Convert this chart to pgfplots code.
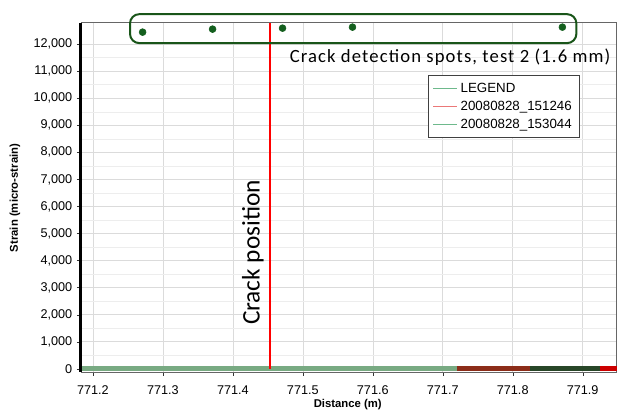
\documentclass[border=0pt]{standalone}
\usepackage{pgfplots}
\pgfplotsset{compat=1.18}
\usepackage{fontspec}
\setmainfont{Liberation Sans}
\newfontfamily\carlito{Carlito}
\newfontfamily\carlitowide[LetterSpace=6]{Carlito}
\definecolor{dkgreen}{RGB}{25,85,25}
\definecolor{dotgreen}{RGB}{20,95,30}
\definecolor{lgreen}{RGB}{110,185,140}
\definecolor{lred}{RGB}{235,120,120}
\definecolor{botgreen}{RGB}{120,170,130}
\definecolor{botred}{RGB}{140,45,25}
\definecolor{botdark}{RGB}{40,70,40}
\begin{document}
\begin{tikzpicture}
\begin{axis}[
  at={(0,0)}, anchor=south west,
  scale only axis, width=402pt, height=262pt,
  xmin=771.1829, xmax=771.9486, ymin=-111, ymax=12794,
  scaled y ticks=false, scaled x ticks=false,
  xtick={771.2,771.3,771.4,771.5,771.6,771.7,771.8,771.9},
  xticklabels={771.2,771.3,771.4,771.5,771.6,771.7,771.8,771.9},
  ytick={0,1000,2000,3000,4000,5000,6000,7000,8000,9000,10000,11000,12000},
  yticklabels={0,{1,000},{2,000},{3,000},{4,000},{5,000},{6,000},{7,000},{8,000},{9,000},{10,000},{11,000},{12,000}},
  minor y tick num=1,
  grid=both,
  major grid style={black!14},
  minor grid style={black!7},
  tick align=outside, tick pos=left,
  major tick length=3pt, minor tick length=0pt,
  tick style={black!80},
  axis line style={black!60},
  tick label style={font=\fontsize{9.5}{11}\selectfont},
  xticklabel style={yshift=-4pt},
  xlabel={\bfseries Distance (m)},
  ylabel={\bfseries Strain (micro-strain)},
  label style={font=\fontsize{8.5}{10}\selectfont},
  xlabel style={at={(axis description cs:0.498,-0.0944)}, anchor=center},
  ylabel style={at={(axis description cs:-0.1231,0.498)}, anchor=center},
  clip=false,
  legend cell align=left,
  legend style={at={(0.647,0.85)}, anchor=north west, draw=black!75, line width=0.8pt,
    font=\fontsize{10}{12}\selectfont, inner sep=3.5pt, row sep=1pt},
  legend image code/.code={\draw[#1, line width=0.9pt] (0pt,0pt) -- (18pt,0pt);},
]
\addlegendimage{lgreen}
\addlegendentry{LEGEND}
\addlegendimage{lred}
\addlegendentry{20080828\_151246}
\addlegendimage{lgreen}
\addlegendentry{20080828\_153044}

% data along zero
\addplot[botgreen, line width=3.5pt, forget plot] coordinates {(771.1829,0) (771.72,0)};
\addplot[botred, line width=3.5pt, forget plot] coordinates {(771.72,0) (771.825,0)};
\addplot[botdark, line width=3.5pt, forget plot] coordinates {(771.825,0) (771.925,0)};
\addplot[red!80!black, line width=3.5pt, forget plot] coordinates {(771.925,0) (771.9486,0)};

% crack position line
\addplot[red, line width=1.5pt, forget plot] coordinates {(771.453,0) (771.453,12794)};

% detection spots
\addplot[only marks, mark=*, mark size=2.6pt, dotgreen, forget plot] coordinates {
  (771.271,12443) (771.371,12554) (771.471,12590) (771.571,12628) (771.871,12628)};

\draw[dkgreen, line width=1.5pt, rounded corners=7pt]
  (axis cs:771.253,12037) rectangle (axis cs:771.891,13108);

\node[font=\carlitowide\fontsize{14}{16}\selectfont, anchor=west, inner sep=0pt]
  at (axis cs:771.481,11520) {Crack detection spots, test 2 (1.6 mm)};
\node[font=\carlito\fontsize{19}{21}\selectfont, rotate=90, anchor=center, inner sep=0pt]
  at (axis cs:771.4286,4299) {Crack position};

\draw[black, line width=2.2pt] (rel axis cs:0,0) -- (rel axis cs:0,1);
\end{axis}
\path[use as bounding box] (-60.75pt,-33pt) rectangle (403.5pt,279pt);
\end{tikzpicture}
\end{document}
